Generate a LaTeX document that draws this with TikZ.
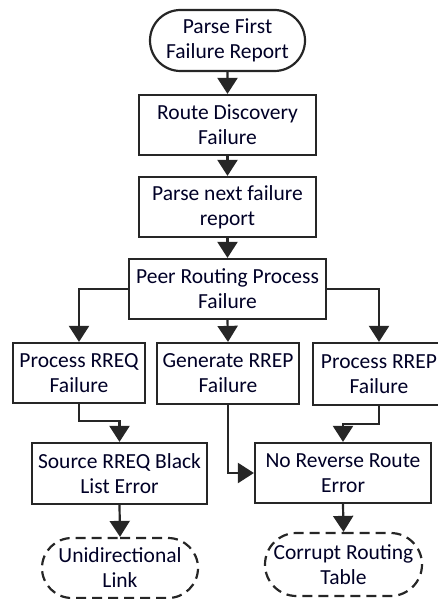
\documentclass[tikz,border=0pt]{standalone}
\usepackage{fontspec}
\setmainfont{Carlito}
\usetikzlibrary{arrows.meta,shapes.misc}
\begin{document}
\begin{tikzpicture}[x=1pt,y=-1pt,
  base/.style={draw=black!85, line width=2.2pt, align=center, inner sep=0pt,
    font=\fontsize{21.5}{25}\selectfont, text=black!85!blue},
  procbox/.style={base, rectangle},
  term/.style={base, rounded rectangle},
  dterm/.style={base, rounded rectangle, dash pattern=on 10pt off 6pt},
  conn/.style={draw=black!85, line width=2.2pt, -{Triangle[width=20pt,length=16pt]}}
]
\useasboundingbox (0,0) rectangle (437,599);
\node[term, minimum width=155pt, minimum height=61pt] (t1) at (227.5,40.5) {Parse First\\Failure Report};
\node[procbox, minimum width=177pt, minimum height=60pt] (b2) at (227.5,125) {Route Discovery\\Failure};
\node[procbox, minimum width=177pt, minimum height=60pt] (b3) at (227.5,207) {Parse next failure\\report};
\node[procbox, minimum width=197pt, minimum height=60pt] (b4) at (227.5,289) {Peer Routing Process\\Failure};
\node[procbox, minimum width=132pt, minimum height=60pt] (b5) at (79,373) {Process RREQ\\Failure};
\node[procbox, minimum width=142pt, minimum height=61pt] (b6) at (228,373.5) {Generate RREP\\Failure};
\node[procbox, minimum width=132pt, minimum height=62pt] (b7) at (379,374) {Process RREP\\Failure};
\node[procbox, minimum width=175pt, minimum height=61pt] (b8) at (119.5,473.5) {Source RREQ Black\\List Error};
\node[procbox, minimum width=176pt, minimum height=60pt] (b9) at (343,473) {No Reverse Route\\Error};
\node[dterm, minimum width=156pt, minimum height=60pt] (t10) at (120,568) {Unidirectional\\Link};
\node[dterm, minimum width=157pt, minimum height=63pt] (t11) at (343.5,564.5) {Corrupt Routing\\Table};
\draw[conn] (t1) -- (b2);
\draw[conn] (b2) -- (b3);
\draw[conn] (b3) -- (b4);
\draw[conn] (b4.west) -| (b5.north);
\draw[conn] (b4.south) -- (b6.north);
\draw[conn] (b4.east) -| (b7.north);
\draw[conn] (b5.south) -- ++(0,17) -| (b8.north);
\draw[conn] (b6.south) |- (b9.west);
\draw[conn] (b7.south) -- ++(0,18) -| (b9.north);
\draw[conn] (b8.south) -- (t10.north);
\draw[conn] (b9.south) -- (t11.north);
\end{tikzpicture}
\end{document}
